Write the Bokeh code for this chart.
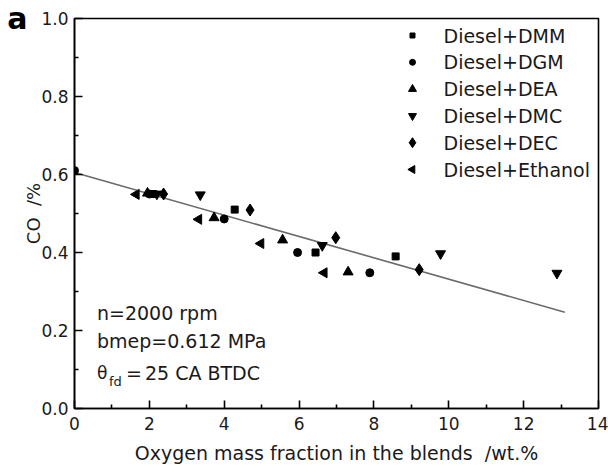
import math
from bokeh.plotting import figure
from bokeh.models import (Label, Range1d, FixedTicker, NumeralTickFormatter,
                          LinearAxis, CustomJSTickFormatter)
from bokeh.core.properties import value
from bokeh.embed import file_html
from bokeh.resources import INLINE

# ---- data ----
dmm_x = [2.1, 4.28, 6.44, 8.58]
dmm_y = [0.55, 0.51, 0.40, 0.39]
dgm_x = [0.0, 2.0, 4.0, 5.96, 7.89]
dgm_y = [0.61, 0.55, 0.486, 0.40, 0.348]
dea_x = [1.95, 3.73, 5.56, 7.31]
dea_y = [0.552, 0.489, 0.432, 0.35]
dmc_x = [2.2, 3.36, 6.62, 9.78, 12.89]
dmc_y = [0.55, 0.548, 0.418, 0.397, 0.347]
dec_x = [2.38, 4.69, 6.98, 9.21]
dec_y = [0.55, 0.509, 0.438, 0.356]
eth_x = [1.65, 3.32, 4.98, 6.67]
eth_y = [0.549, 0.485, 0.423, 0.348]
fit_x = [0.0, 13.1]
fit_y = [0.605, 0.247]
x_ticks = [0, 2, 4, 6, 8, 10, 12, 14]
x_minor = [1, 3, 5, 7, 9, 11, 13]
y_ticks = [0.0, 0.2, 0.4, 0.6, 0.8, 1.0]
y_minor = [0.1, 0.3, 0.5, 0.7, 0.9]
series_labels = ["Diesel+DMM", "Diesel+DGM", "Diesel+DEA",
                 "Diesel+DMC", "Diesel+DEC", "Diesel+Ethanol"]
panel_letter = "a"

FONT = "DejaVu Sans"
TXT = "#1a1a1a"
W, H = 608, 473
ML, MR, MT, MB = 74, 10, 18, 65
FW, FH = W - ML - MR, H - MT - MB

p = figure(width=W, height=H, output_backend="svg", toolbar_location=None,
           x_range=Range1d(0, 14), y_range=Range1d(0, 1.0),
           min_border_left=ML, min_border_right=MR, min_border_top=MT, min_border_bottom=MB)
p.extra_x_ranges = {"px": Range1d(0, FW)}
p.extra_y_ranges = {"py": Range1d(0, FH)}
p.xgrid.visible = False
p.ygrid.visible = False
p.outline_line_color = "black"
p.outline_line_width = 1.6
p.background_fill_color = "white"
p.border_fill_color = "white"

p.xaxis.ticker = FixedTicker(ticks=x_ticks, minor_ticks=x_minor)
p.yaxis.ticker = FixedTicker(ticks=y_ticks, minor_ticks=y_minor)
p.xaxis.formatter = NumeralTickFormatter(format="0")
p.yaxis.formatter = NumeralTickFormatter(format="0.0")
for ax in (p.xaxis[0], p.yaxis[0]):
    ax.major_tick_in = 8
    ax.major_tick_out = 0
    ax.minor_tick_in = 4
    ax.minor_tick_out = 0
    ax.major_tick_line_width = 1.6
    ax.minor_tick_line_width = 1.6
    ax.major_tick_line_color = "black"
    ax.minor_tick_line_color = "black"
    ax.axis_line_width = 1.6
    ax.major_label_text_font = FONT
    ax.major_label_text_font_size = "17px"
    ax.major_label_text_color = TXT
    ax.axis_label_text_font = FONT
    ax.axis_label_text_font_size = "19px"
    ax.axis_label_text_font_style = "normal"
    ax.axis_label_text_color = TXT
p.yaxis.axis_label_text_font_size = "18px"

p.xaxis.axis_label = "Oxygen mass fraction in the blends\u00a0\u00a0/wt.%"
p.yaxis.axis_label = "CO\u00a0\u00a0/%"
p.xaxis.major_label_standoff = 8
p.yaxis.major_label_standoff = 6
p.xaxis.axis_label_standoff = 9
p.yaxis.axis_label_standoff = -6

# outer left axis that only carries the panel letter at the top of the frame
letter_axis = LinearAxis(ticker=FixedTicker(ticks=[1.0]),
                         formatter=CustomJSTickFormatter(code="return '%s';" % panel_letter))
letter_axis.axis_line_color = None
letter_axis.major_tick_line_color = None
letter_axis.minor_tick_line_color = None
letter_axis.major_tick_in = 0
letter_axis.major_tick_out = 0
letter_axis.major_label_standoff = -7
letter_axis.major_label_text_font = FONT
letter_axis.major_label_text_font_size = "30px"
letter_axis.major_label_text_font_style = "bold"
letter_axis.major_label_text_color = "black"
p.add_layout(letter_axis, "left")

# fitted line
p.line(fit_x, fit_y, line_color="#6a6a6a", line_width=1.6)

markers = [("square", 7, 0), ("circle", 8, 0), ("triangle", 10, 0),
           ("inverted_triangle", 10, 0), ("diamond", 12, 0), ("triangle", 10, math.pi / 2)]
series = [(dmm_x, dmm_y), (dgm_x, dgm_y), (dea_x, dea_y),
          (dmc_x, dmc_y), (dec_x, dec_y), (eth_x, eth_y)]
for (mk, sz, ang), (sx, sy) in zip(markers, series):
    p.scatter(sx, sy, marker=mk, size=sz, angle=ang, color="black")

# hand-drawn legend (pixel coordinates inside the frame)
leg_mx, leg_tx, leg_top, leg_step = 338, 369, 373, 26.8
for i, ((mk, sz, ang), lab) in enumerate(zip(markers, series_labels)):
    yy = leg_top - i * leg_step
    p.scatter([leg_mx], [yy], marker=mk, size=sz - 2, angle=ang, color="black",
              x_range_name="px", y_range_name="py")
    p.text([leg_tx], [yy], text=[lab], text_font=value(FONT), text_font_size="19px",
           text_color=TXT, text_baseline="middle", x_range_name="px", y_range_name="py")

txt = dict(text_font=FONT, text_font_size="19px", text_color=TXT, text_baseline="alphabetic")
AX = 0.6
p.add_layout(Label(x=AX, y=0.2436, text="n=2000 rpm", **txt))
p.add_layout(Label(x=AX, y=0.174, text="bmep=0.612 MPa", **txt))
p.add_layout(Label(x=AX, y=0.092, text="\u03b8", text_font=FONT, text_font_size="17px",
                   text_color=TXT, text_baseline="alphabetic"))
p.add_layout(Label(x=AX, y=0.092, x_offset=12, y_offset=-9, text="fd",
                   text_font=FONT, text_font_size="13px", text_color=TXT,
                   text_baseline="alphabetic"))
p.add_layout(Label(x=AX, y=0.092, x_offset=29, text="=", **txt))
p.add_layout(Label(x=AX, y=0.092, x_offset=48, text="25 CA BTDC", **txt))

open("out.html", "w").write(file_html(p, INLINE))
